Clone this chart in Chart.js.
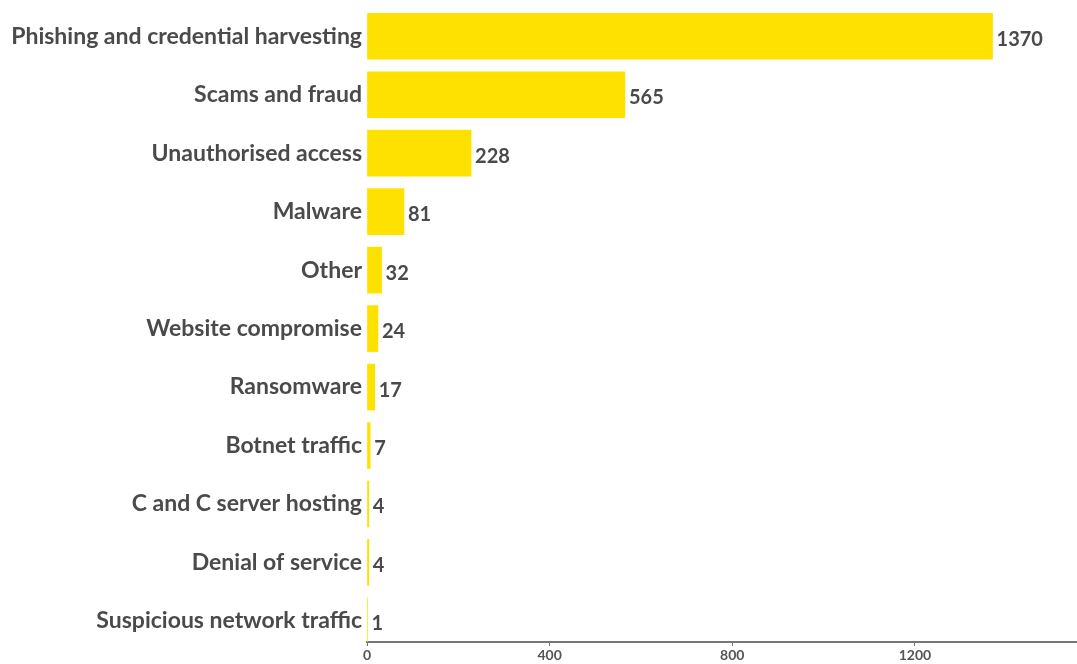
<!DOCTYPE html>
<html>
<head>
<meta charset="utf-8">
<script src="https://cdn.jsdelivr.net/npm/chart.js@4/dist/chart.umd.min.js"></script>
<style>
  body { margin: 0; background: #fff; }
  #wrap { width: 1077px; height: 664px; }
</style>
</head>
<body>
<div id="wrap"><canvas id="myChart"></canvas></div>
<script>
const categories = [
  "Phishing and credential harvesting",
  "Scams and fraud",
  "Unauthorised access",
  "Malware",
  "Other",
  "Website compromise",
  "Ransomware",
  "Botnet traffic",
  "C and C server hosting",
  "Denial of service",
  "Suspicious network traffic"
];
const counts = [1370, 565, 228, 81, 32, 24, 17, 7, 4, 4, 1];
const xTicks = [0, 400, 800, 1200];

const labelColor = "#4a4a4a";

// numbers at the end of each bar
const valueLabels = {
  id: "valueLabels",
  afterDatasetsDraw(chart) {
    const ctx = chart.ctx;
    const meta = chart.getDatasetMeta(0);
    ctx.save();
    ctx.font = "bold 20px Lato";
    ctx.fillStyle = labelColor;
    ctx.textAlign = "left";
    ctx.textBaseline = "middle";
    meta.data.forEach((bar, i) => {
      ctx.fillText(String(counts[i]), bar.x + 4, bar.y + 3);
    });
    ctx.restore();
  }
};

const ctx = document.getElementById("myChart").getContext("2d");

new Chart(ctx, {
  type: "bar",
  data: {
    datasets: [
      {
        data: counts.map((v, i) => ({ x: v, y: i })),
        backgroundColor: "#ffe100",
        borderWidth: 0,
        barThickness: 46,
      },
    ],
  },
  options: {
    indexAxis: "y",
    responsive: true,
    maintainAspectRatio: false,
    animation: false,
    layout: {
      padding: { top: 7, right: 0, bottom: 0, left: 0 },
    },
    plugins: {
      legend: { display: false },
      tooltip: { enabled: false },
    },
    scales: {
      y: {
        type: "linear",
        reverse: true,
        offset: false,
        min: -0.5,
        max: 10.36,
        afterBuildTicks: (axis) => {
          axis.ticks = categories.map((c, i) => ({ value: i }));
        },
        afterFit: (axis) => {
          axis.width = 367;
          axis.paddingTop = 0;
          axis.paddingBottom = 0;
        },
        grid: { display: false, drawTicks: false, offset: false },
        border: { display: false },
        ticks: {
          padding: 5,
          color: labelColor,
          font: { family: "Lato", size: 23, weight: "bold" },
          callback: (v) => categories[v],
        },
      },
      x: {
        min: 0,
        max: 1555,
        afterBuildTicks: (axis) => {
          axis.ticks = xTicks.map((v) => ({ value: v }));
        },
        afterFit: (axis) => {
          axis.paddingLeft = 0;
          axis.paddingRight = 0;
        },
        grid: {
          display: true,
          drawOnChartArea: false,
          tickLength: 4,
          color: "#777",
        },
        border: { display: true, color: "#777", width: 2 },
        ticks: {
          padding: 2,
          maxRotation: 0,
          color: "#555",
          font: { family: "Lato", size: 14, weight: "bold", lineHeight: 1 },
          callback: (v) => String(v),
        },
      },
    },
  },
  plugins: [valueLabels],
});
</script>
</body>
</html>
